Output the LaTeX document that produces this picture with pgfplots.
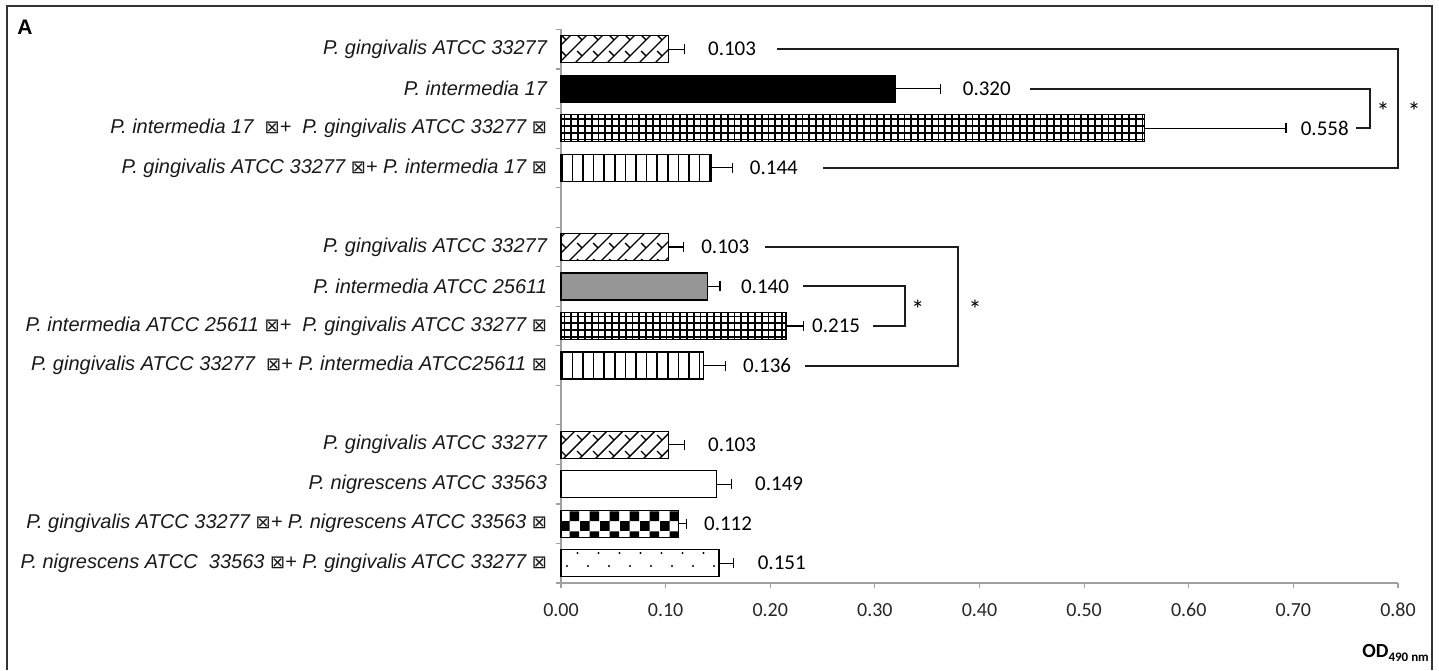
\documentclass[border=0pt]{standalone}
\usepackage{pgfplots}
\pgfplotsset{compat=1.18}
\usepackage{fontspec}
\setmainfont{Liberation Sans}
\newfontfamily\carl{Carlito}
\newfontfamily\dejavu{DejaVu Sans}
\usetikzlibrary{patterns}
\newcommand\bx{{\dejavu\fontsize{9}{9}\selectfont ⊠}}
\newcommand\tsp{\hspace{5pt}}

% custom patterns
\pgfdeclarepatternformonly{gbrick}{\pgfqpoint{-1pt}{-1pt}}{\pgfqpoint{9pt}{9pt}}{\pgfqpoint{8pt}{8pt}}{%
  \pgfsetlinewidth{0.7pt}%
  \pgfpathmoveto{\pgfqpoint{0pt}{0pt}}\pgfpathlineto{\pgfqpoint{8pt}{8pt}}%
  \pgfpathmoveto{\pgfqpoint{0.5pt}{5.5pt}}\pgfpathlineto{\pgfqpoint{3pt}{3pt}}%
  \pgfusepath{stroke}}
\pgfdeclarepatternformonly{mygrid}{\pgfqpoint{-1pt}{-1pt}}{\pgfqpoint{4.5pt}{4.5pt}}{\pgfqpoint{3.4pt}{3.4pt}}{%
  \pgfsetlinewidth{0.9pt}%
  \pgfpathmoveto{\pgfqpoint{0pt}{0pt}}\pgfpathlineto{\pgfqpoint{0pt}{3.4pt}}%
  \pgfpathmoveto{\pgfqpoint{0pt}{0pt}}\pgfpathlineto{\pgfqpoint{3.4pt}{0pt}}%
  \pgfusepath{stroke}}
\pgfdeclarepatternformonly{vlines}{\pgfqpoint{-1pt}{-1pt}}{\pgfqpoint{6.3pt}{6.3pt}}{\pgfqpoint{5.3pt}{5.3pt}}{%
  \pgfsetlinewidth{0.75pt}%
  \pgfpathmoveto{\pgfqpoint{0pt}{0pt}}\pgfpathlineto{\pgfqpoint{0pt}{5.3pt}}%
  \pgfusepath{stroke}}
\pgfdeclarepatternformonly{checker}{\pgfqpoint{0pt}{0pt}}{\pgfqpoint{10pt}{10pt}}{\pgfqpoint{10pt}{10pt}}{%
  \pgfpathrectangle{\pgfqpoint{0pt}{0pt}}{\pgfqpoint{5pt}{5pt}}%
  \pgfpathrectangle{\pgfqpoint{5pt}{5pt}}{\pgfqpoint{5pt}{5pt}}%
  \pgfusepath{fill}}
\pgfdeclarepatternformonly{sdots}{\pgfqpoint{-1pt}{-1pt}}{\pgfqpoint{11.5pt}{14pt}}{\pgfqpoint{10.5pt}{13pt}}{%
  \pgfpathcircle{\pgfqpoint{0pt}{0pt}}{0.6pt}%
  \pgfpathcircle{\pgfqpoint{5.25pt}{6.5pt}}{0.6pt}%
  \pgfusepath{fill}}

\definecolor{axgray}{RGB}{160,160,160}
\definecolor{bargray}{RGB}{150,150,150}
\definecolor{brk}{RGB}{30,30,30}

\begin{document}
\begin{tikzpicture}
\begin{axis}[
  name=ax, at={(0,0)}, anchor=south west,
  scale only axis, width=418.5pt, height=276.75pt,
  xmin=0, xmax=0.8, ymin=0.5, ymax=14.5,
  clip=false,
  axis x line*=bottom, axis y line*=left,
  axis line style={draw=axgray, line width=0.6pt},
  tick align=outside, major tick length=2.5pt,
  xtick={0,0.1,0.2,0.3,0.4,0.5,0.6,0.7,0.8},
  xtick style={draw=axgray, line width=0.6pt},
  xticklabel={\pgfmathprintnumber[fixed, fixed zerofill, precision=2]{\tick}},
  /pgf/number format/assume math mode=true,
  xticklabel style={font=\carl\fontsize{10}{12}\selectfont, text=black!85, yshift=-4pt},
  ytick={1,2,3,4,6,7,8,9,11,12,13,14},
  ytick style={draw=none},
  yticklabels={
    {P. nigrescens ATCC \ 33563 \bx+ P. gingivalis ATCC 33277 \bx},
    {P. gingivalis ATCC 33277 \bx+ P. nigrescens ATCC 33563 \bx},
    {P. nigrescens ATCC 33563\tsp},
    {P. gingivalis ATCC 33277\tsp},
    {P. gingivalis ATCC 33277 \ \bx+ P. intermedia ATCC25611 \bx},
    {P. intermedia ATCC 25611 \bx+ \ P. gingivalis ATCC 33277 \bx},
    {P. intermedia ATCC 25611\tsp},
    {P. gingivalis ATCC 33277\tsp},
    {P. gingivalis ATCC 33277 \bx+ P. intermedia 17 \bx},
    {P. intermedia 17 \ \bx+ \ P. gingivalis ATCC 33277 \bx},
    {P. intermedia 17\tsp},
    {P. gingivalis ATCC 33277\tsp}},
  yticklabel style={font=\itshape\fontsize{10}{12}\selectfont, text=black!90, xshift=-1pt},
  extra y ticks={0.5,1.5,2.5,3.5,4.5,5.5,6.5,7.5,8.5,9.5,10.5,11.5,12.5,13.5,14.5},
  extra y tick labels={},
  extra y tick style={ytick style={draw=axgray, line width=0.6pt}},
  error bars/error bar style={black, line width=0.6pt},
  error bars/error mark options={black, line width=0.6pt, mark size=2.5pt, rotate=90},
]
% group 1
\addplot[xbar, bar shift=0pt, bar width=13.5pt, draw=black, line width=0.6pt, pattern=gbrick,
  error bars/.cd, x dir=plus, x explicit] coordinates {(0.103,14) +- (0.015,0)};
\addplot[xbar, bar shift=0pt, bar width=13.5pt, draw=black, line width=0.6pt, fill=black,
  error bars/.cd, x dir=plus, x explicit] coordinates {(0.320,13) +- (0.043,0)};
\addplot[xbar, bar shift=0pt, bar width=13.5pt, draw=black, line width=0.6pt, pattern=mygrid,
  error bars/.cd, x dir=plus, x explicit] coordinates {(0.558,12) +- (0.135,0)};
\addplot[xbar, bar shift=0pt, bar width=13.5pt, draw=black, line width=0.6pt, pattern=vlines,
  error bars/.cd, x dir=plus, x explicit] coordinates {(0.144,11) +- (0.020,0)};
% group 2
\addplot[xbar, bar shift=0pt, bar width=13.5pt, draw=black, line width=0.6pt, pattern=gbrick,
  error bars/.cd, x dir=plus, x explicit] coordinates {(0.103,9) +- (0.014,0)};
\addplot[xbar, bar shift=0pt, bar width=13.5pt, draw=black, line width=0.6pt, fill=bargray,
  error bars/.cd, x dir=plus, x explicit] coordinates {(0.140,8) +- (0.012,0)};
\addplot[xbar, bar shift=0pt, bar width=13.5pt, draw=black, line width=0.6pt, pattern=mygrid,
  error bars/.cd, x dir=plus, x explicit] coordinates {(0.215,7) +- (0.017,0)};
\addplot[xbar, bar shift=0pt, bar width=13.5pt, draw=black, line width=0.6pt, pattern=vlines,
  error bars/.cd, x dir=plus, x explicit] coordinates {(0.136,6) +- (0.021,0)};
% group 3
\addplot[xbar, bar shift=0pt, bar width=13.5pt, draw=black, line width=0.6pt, pattern=gbrick,
  error bars/.cd, x dir=plus, x explicit] coordinates {(0.103,4) +- (0.015,0)};
\addplot[xbar, bar shift=0pt, bar width=13.5pt, draw=black, line width=0.6pt, fill=white,
  error bars/.cd, x dir=plus, x explicit] coordinates {(0.149,3) +- (0.014,0)};
\addplot[xbar, bar shift=0pt, bar width=13.5pt, draw=black, line width=0.6pt, pattern=checker,
  error bars/.cd, x dir=plus, x explicit] coordinates {(0.112,2) +- (0.008,0)};
\addplot[xbar, bar shift=0pt, bar width=13.5pt, draw=black, line width=0.6pt, pattern=sdots,
  error bars/.cd, x dir=plus, x explicit] coordinates {(0.151,1) +- (0.014,0)};

% value labels
\begin{scope}[every node/.style={font=\carl\fontsize{10.5}{12}\selectfont, text=black}]
\node at (axis cs:0.1635,14) {0.103};
\node at (axis cs:0.407,13) {0.320};
\node at (axis cs:0.730,12) {0.558};
\node at (axis cs:0.2035,11) {0.144};
\node at (axis cs:0.157,9) {0.103};
\node at (axis cs:0.195,8) {0.140};
\node at (axis cs:0.263,7) {0.215};
\node at (axis cs:0.197,6) {0.136};
\node at (axis cs:0.1635,4) {0.103};
\node at (axis cs:0.2085,3) {0.149};
\node at (axis cs:0.1597,2) {0.112};
\node at (axis cs:0.211,1) {0.151};
\end{scope}
% stars
\begin{scope}[every node/.style={font=\carl\fontsize{13}{14}\selectfont, text=black}]
\node at (axis cs:0.7857,12.42) {*};
\node at (axis cs:0.8153,12.42) {*};
\node at (axis cs:0.3412,7.42) {*};
\node at (axis cs:0.3957,7.42) {*};
\end{scope}

% brackets
\draw[brk, line width=1pt] (axis cs:0.2065,14) -- (axis cs:0.800,14) -- (axis cs:0.800,11) -- (axis cs:0.2504,11);
\draw[brk, line width=1pt] (axis cs:0.4483,13) -- (axis cs:0.7733,13) -- (axis cs:0.7733,12) -- (axis cs:0.760,12);
\draw[brk, line width=1pt] (axis cs:0.195,9) -- (axis cs:0.3795,9) -- (axis cs:0.3795,6) -- (axis cs:0.2332,6);
\draw[brk, line width=1pt] (axis cs:0.2313,8) -- (axis cs:0.3288,8) -- (axis cs:0.3288,7) -- (axis cs:0.2982,7);
\end{axis}

\begin{scope}[shift={(ax.south west)}]
\draw[black!80, line width=0.8pt] (-277pt,-43.5pt) -- (-277pt,288.5pt) -- (435.5pt,288.5pt) -- (435.5pt,-43.5pt);
\node[font=\bfseries\fontsize{10.5}{12}\selectfont] at (-268pt,278pt) {A};
\node[anchor=base west, inner sep=0pt] at (400.5pt,-37pt) {\carl\bfseries\fontsize{10}{12}\selectfont OD\raisebox{-2pt}{\fontsize{6.5}{7}\selectfont 490 nm}};
\pgfresetboundingbox
\useasboundingbox (-280.5pt,-43.5pt) rectangle (439pt,291.5pt);
\end{scope}
\end{tikzpicture}
\end{document}
